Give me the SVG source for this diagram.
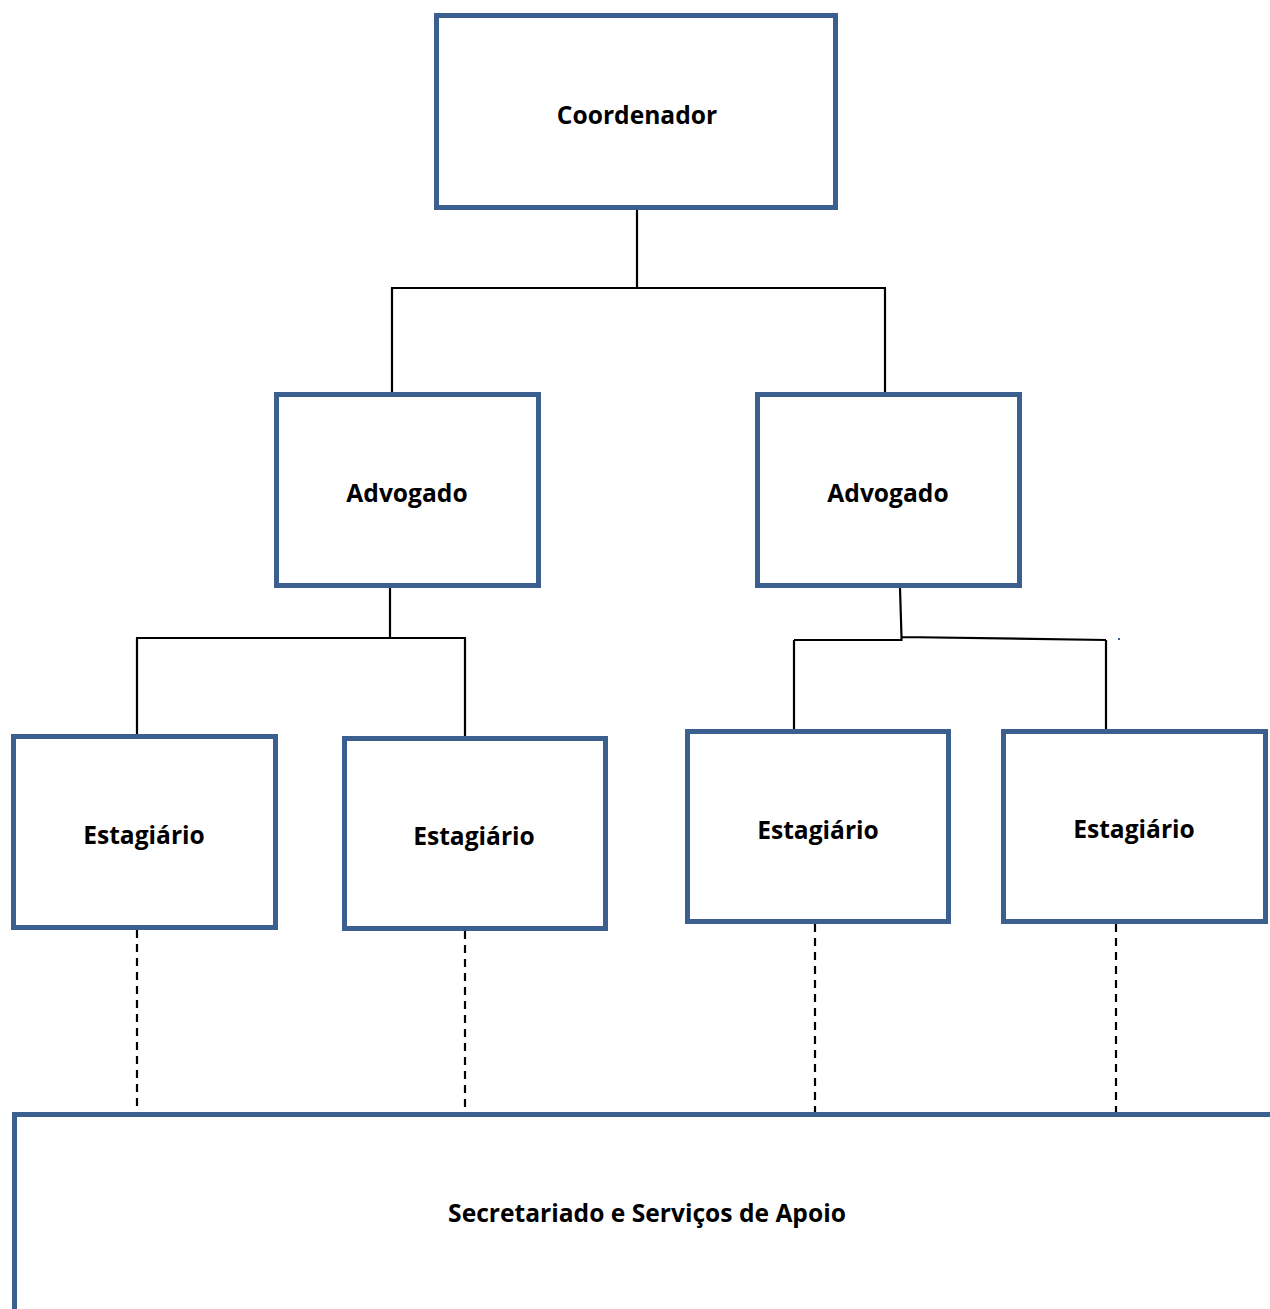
<svg xmlns="http://www.w3.org/2000/svg" width="1270" height="1309" viewBox="0 0 1270 1309">
<style>
.box{fill:#fff;stroke:#3B6090;stroke-width:5}
.lbl{font-family:"Open Sans","Liberation Sans",sans-serif;font-weight:bold;font-size:24.6px;fill:#000;text-anchor:middle}
.ln{fill:none;stroke:#000;stroke-width:2.2}
.dash{fill:none;stroke:#000;stroke-width:2.2;stroke-dasharray:8 6}
</style>
<rect width="1270" height="1309" fill="#fff"/>
<g id="connectors">
<path class="ln" d="M637,210 V288 M391,288 H886 M392,288 V392 M885,288 V392"/>
<path class="ln" d="M390,588 V638 M136,638 H466 M137,638 V734 M465,638 V736"/>
<path class="ln" d="M900,588 L901.5,637 M794,640 H901.5 V637 L1106,640 M794,640 V730 M1106,640 V730"/>
<path class="dash" d="M137,930 V1110 M465,931 V1110 M815,924 V1114 M1116,924 V1114"/>
<rect x="1118" y="638" width="2" height="2" fill="#3B6090"/>
</g>
<g id="coordenador"><rect class="box" x="436.5" y="15.5" width="399" height="192"/><text class="lbl" x="637" y="124">Coordenador</text></g>
<g id="advogado1"><rect class="box" x="276.5" y="394.5" width="262" height="191"/><text class="lbl" x="407" y="502">Advogado</text></g>
<g id="advogado2"><rect class="box" x="757.5" y="394.5" width="262" height="191"/><text class="lbl" x="888" y="502">Advogado</text></g>
<g id="estagiario1"><rect class="box" x="13.5" y="736.5" width="262" height="191"/><text class="lbl" x="144" y="844">Estagiário</text></g>
<g id="estagiario2"><rect class="box" x="344.5" y="738.5" width="261" height="190"/><text class="lbl" x="474" y="845">Estagiário</text></g>
<g id="estagiario3"><rect class="box" x="687.5" y="731.5" width="261" height="190"/><text class="lbl" x="818" y="839">Estagiário</text></g>
<g id="estagiario4"><rect class="box" x="1003.5" y="731.5" width="262" height="190"/><text class="lbl" x="1134" y="838">Estagiário</text></g>
<g id="secretariado"><rect class="box" x="14.5" y="1114.5" width="1300" height="300"/><text class="lbl" x="647" y="1222">Secretariado e Serviços de Apoio</text></g>
</svg>
